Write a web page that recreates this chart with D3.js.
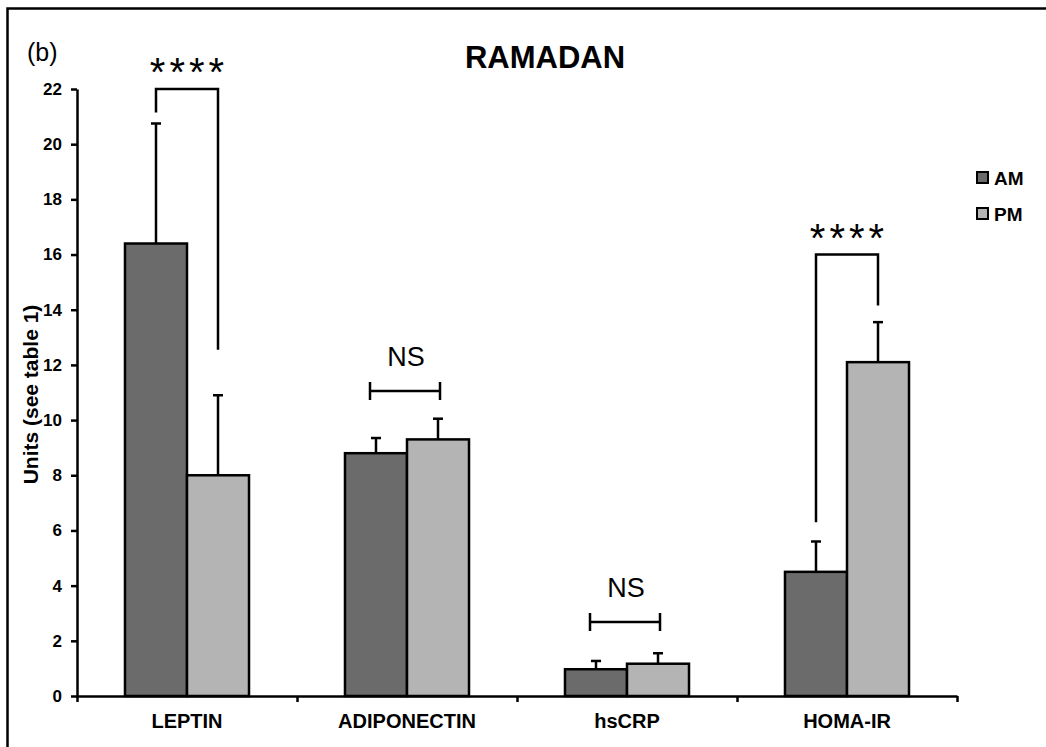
<!DOCTYPE html>
<html>
<head>
<meta charset="utf-8">
<script src="https://cdn.jsdelivr.net/npm/d3@7"></script>
<style>
  html, body { margin: 0; padding: 0; background: #fff; }
  svg { display: block; font-family: "Liberation Sans", Arial, sans-serif; }
</style>
</head>
<body>
<svg id="chart" width="1046" height="747"></svg>
<script>
// ---- data ----
const categories = ["LEPTIN", "ADIPONECTIN", "hsCRP", "HOMA-IR"];
const series = ["AM", "PM"];
const amValues = [16.4, 8.8, 0.97, 4.5];
const amErrors = [4.35, 0.55, 0.3, 1.1];
const pmValues = [8.0, 9.3, 1.17, 12.1];
const pmErrors = [2.9, 0.75, 0.38, 1.45];
const yTicks = [0, 2, 4, 6, 8, 10, 12, 14, 16, 18, 20, 22];
// significance annotations (data units)
const sigLabels = ["****", "NS", "NS", "****"];
const sigLevels = [22, 11.05, 2.68, 16];
const sigLeftEnds = [21.15, null, null, 6.3];
const sigRightEnds = [12.55, null, null, 14.15];

const colors = { AM: "#6b6b6b", PM: "#b4b4b4" };

const svg = d3.select("#chart");
const W = 1046, H = 747;
const margin = { left: 77, right: 89, top: 89, bottom: 51 };
const x0 = margin.left, x1 = W - margin.right;
const yTop = margin.top, yBot = H - margin.bottom;

// outer frame
svg.append("rect")
  .attr("x", 7.5).attr("y", 8.5).attr("width", 1100).attr("height", 800)
  .attr("fill", "none").attr("stroke", "#000").attr("stroke-width", 2.5);

const x = d3.scaleBand().domain(categories).range([x0, x1]).padding(0);
const xs = d3.scaleBand().domain(series).range([0, x.bandwidth()]).paddingInner(0).paddingOuter(0.774);
const y = d3.scaleLinear().domain([0, 22]).range([yBot, yTop]);
const xEdge = d3.scaleLinear().domain([0, categories.length]).range([x0, x1]);

const rows = categories.map((c, i) => ({
  cat: c,
  vals: [
    { s: "AM", v: amValues[i], e: amErrors[i] },
    { s: "PM", v: pmValues[i], e: pmErrors[i] }
  ]
}));

// bars
const g = svg.append("g");
const groups = g.selectAll("g.grp").data(rows).join("g")
  .attr("transform", d => `translate(${x(d.cat)},0)`);

groups.selectAll("rect").data(d => d.vals).join("rect")
  .attr("x", d => xs(d.s))
  .attr("y", d => y(d.v))
  .attr("width", xs.bandwidth())
  .attr("height", d => y(0) - y(d.v))
  .attr("fill", d => colors[d.s])
  .attr("stroke", "#000").attr("stroke-width", 2.5);

// error bars (upper only)
groups.selectAll("line.err").data(d => d.vals).join("line")
  .attr("class", "err")
  .attr("x1", d => xs(d.s) + xs.bandwidth() / 2)
  .attr("x2", d => xs(d.s) + xs.bandwidth() / 2)
  .attr("y1", d => y(d.v))
  .attr("y2", d => y(d.v + d.e))
  .attr("stroke", "#000").attr("stroke-width", 2.5);
groups.selectAll("line.cap").data(d => d.vals).join("line")
  .attr("class", "cap")
  .attr("x1", d => xs(d.s) + xs.bandwidth() / 2 - 5)
  .attr("x2", d => xs(d.s) + xs.bandwidth() / 2 + 5)
  .attr("y1", d => y(d.v + d.e))
  .attr("y2", d => y(d.v + d.e))
  .attr("stroke", "#000").attr("stroke-width", 2.5);

// y axis
const yAxis = svg.append("g")
  .attr("transform", `translate(${x0},0)`)
  .call(d3.axisLeft(y).tickValues(yTicks).tickSize(6).tickSizeOuter(0).tickPadding(9));
yAxis.select(".domain").attr("stroke-width", 2.5);
yAxis.selectAll(".tick line").attr("stroke-width", 2.5);
yAxis.selectAll(".tick text")
  .attr("font-size", 17).attr("font-weight", "bold")
  .attr("font-family", "Liberation Sans, Arial, sans-serif").attr("fill", "#000");

// x axis boundary ticks
const xAxisEdges = svg.append("g")
  .attr("transform", `translate(0,${yBot})`)
  .call(d3.axisBottom(xEdge).tickValues(d3.range(categories.length + 1)).tickFormat("").tickSize(6).tickSizeOuter(0));
xAxisEdges.select(".domain").attr("stroke-width", 2.5);
xAxisEdges.selectAll(".tick line").attr("stroke-width", 2.5);

// x axis labels
const xAxis = svg.append("g")
  .attr("transform", `translate(0,${yBot})`)
  .call(d3.axisBottom(x).tickSize(0).tickPadding(18));
xAxis.select(".domain").remove();
xAxis.selectAll(".tick text")
  .attr("font-size", 20).attr("font-weight", "bold")
  .attr("font-family", "Liberation Sans, Arial, sans-serif").attr("fill", "#000");

// y label
svg.append("text")
  .attr("transform", `translate(38,${(yTop + yBot) / 2 + 2}) rotate(-90)`)
  .attr("text-anchor", "middle")
  .attr("font-size", 21).attr("font-weight", "bold")
  .text("Units (see table 1)");

// title
svg.append("text")
  .attr("x", 545).attr("y", 68)
  .attr("text-anchor", "middle")
  .attr("font-size", 31).attr("font-weight", "bold")
  .text("RAMADAN");

svg.append("text")
  .attr("x", 27).attr("y", 61)
  .attr("font-size", 25)
  .text("(b)");

// legend
const legend = svg.append("g").attr("transform", "translate(977,172)");
series.forEach((s, i) => {
  const lg = legend.append("g").attr("transform", `translate(0,${i * 36})`);
  lg.append("rect").attr("x", 0).attr("y", 0).attr("width", 11).attr("height", 11)
    .attr("fill", colors[s]).attr("stroke", "#000").attr("stroke-width", 2);
  lg.append("text").attr("x", 17).attr("y", 13)
    .attr("font-size", 19).attr("font-weight", "bold").text(s);
});

// significance annotations
const sig = svg.append("g");
rows.forEach((r, i) => {
  const cxA = x(r.cat) + xs("AM") + xs.bandwidth() / 2;
  const cxP = x(r.cat) + xs("PM") + xs.bandwidth() / 2;
  const yl = y(sigLevels[i]);
  if (sigLeftEnds[i] !== null) {
    sig.append("path")
      .attr("d", `M${cxA},${y(sigLeftEnds[i])}V${yl}H${cxP}V${y(sigRightEnds[i])}`)
      .attr("fill", "none").attr("stroke", "#000").attr("stroke-width", 2.5);
    sig.append("text")
      .attr("x", (cxA + cxP) / 2 + 2).attr("y", yl - 3)
      .attr("text-anchor", "middle")
      .attr("font-size", 40).attr("letter-spacing", 4)
      .text(sigLabels[i]);
  } else {
    const mid = x(r.cat) + x.bandwidth() / 2 - 2;
    const l = mid - 35, rr = mid + 35;
    sig.append("path")
      .attr("d", `M${l},${yl}H${rr}M${l},${yl - 9}V${yl + 9}M${rr},${yl - 9}V${yl + 9}`)
      .attr("fill", "none").attr("stroke", "#000").attr("stroke-width", 2.5);
    sig.append("text")
      .attr("x", mid + 1).attr("y", yl - 25)
      .attr("text-anchor", "middle")
      .attr("font-size", 27)
      .text(sigLabels[i]);
  }
});
</script>
</body>
</html>
